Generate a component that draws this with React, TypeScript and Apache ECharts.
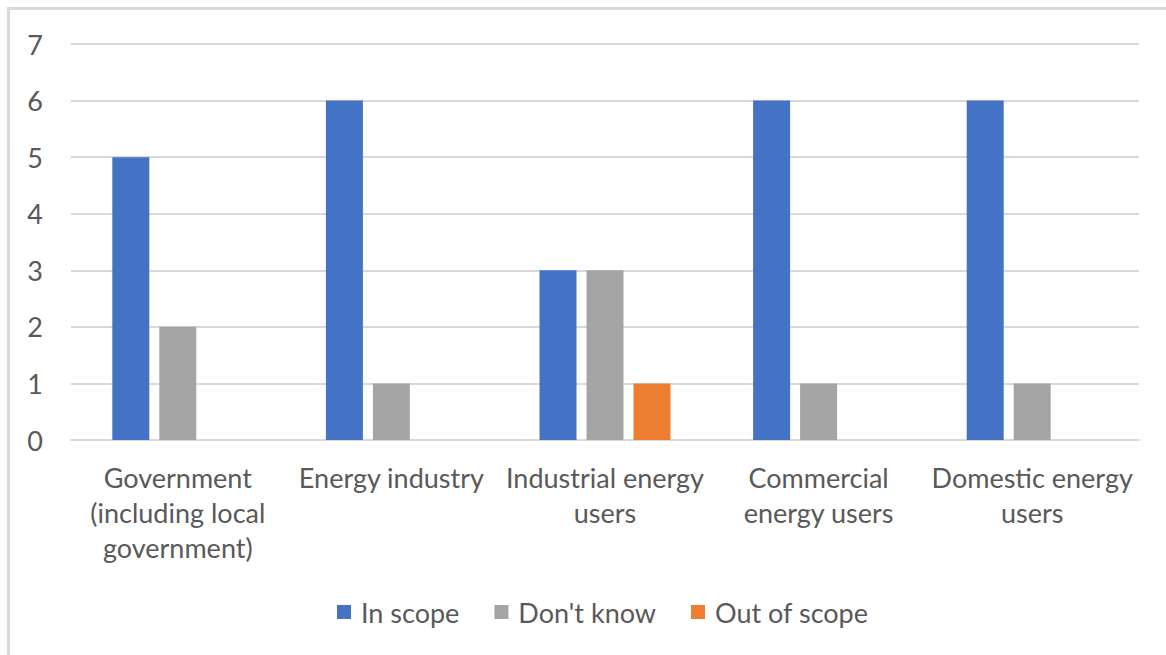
import React, { useEffect, useRef } from "react";
import * as echarts from "echarts";

const categories = [
  "Government\n(including local\ngovernment)",
  "Energy industry",
  "Industrial energy\nusers",
  "Commercial\nenergy users",
  "Domestic energy\nusers",
];
const inScope = [5, 6, 3, 6, 6];
const dontKnow = [2, 1, 3, 1, 1];
const outOfScope = [0, 0, 1, 0, 0];
const yTicks = [0, 1, 2, 3, 4, 5, 6, 7];

const FONT = "Lato, 'Open Sans', sans-serif";
const TEXT = "#595959";
const FS = 27;

export default function App() {
  const ref = useRef<HTMLDivElement>(null);

  useEffect(() => {
    if (!ref.current) return;
    const chart = echarts.init(ref.current, undefined, { renderer: "svg" });
    const bar = (name: string, data: number[], color: string) => ({
      name,
      type: "bar",
      data,
      barWidth: 37,
      barGap: "27%",
      itemStyle: { color },
    });
    chart.setOption({
      animation: false,
      backgroundColor: "#ffffff",
      textStyle: { fontFamily: FONT },
      graphic: [
        {
          type: "polyline",
          shape: { points: [[8.5, 655], [8.5, 8.5], [1166, 8.5]] },
          style: { stroke: "#d9d9d9", lineWidth: 3, fill: null },
          silent: true,
        },
      ],
      grid: { left: 71, right: 27, top: 44, bottom: 215, containLabel: false },
      legend: {
        top: 592,
        left: 332,
        itemWidth: 14,
        itemHeight: 14,
        itemGap: 35,
        icon: "rect",
        textStyle: {
          color: TEXT,
          fontSize: FS,
          lineHeight: 30,
          fontFamily: FONT,
          padding: [0, 0, 0, 5],
        },
        data: ["In scope", "Don't know", "Out of scope"],
      },
      xAxis: {
        type: "category",
        data: categories,
        axisLine: { show: true, lineStyle: { color: "#d9d9d9", width: 2 } },
        axisTick: { show: false },
        axisLabel: {
          color: TEXT,
          fontSize: FS,
          fontFamily: FONT,
          lineHeight: 35,
          margin: 20,
          interval: 0,
          align: "center",
        },
      },
      yAxis: {
        type: "value",
        min: yTicks[0],
        max: yTicks[yTicks.length - 1],
        interval: 1,
        axisLine: { show: false },
        axisTick: { show: false },
        splitLine: { lineStyle: { color: "#d9d9d9", width: 2 } },
        axisLabel: { color: TEXT, fontSize: FS, fontFamily: FONT, margin: 28 },
      },
      series: [
        bar("In scope", inScope, "#4472C4"),
        bar("Don't know", dontKnow, "#A5A5A5"),
        bar("Out of scope", outOfScope, "#ED7D31"),
      ],
    });
    return () => chart.dispose();
  }, []);

  return (
    <div
      ref={ref}
      style={{ position: "absolute", left: 0, top: 0, width: 1166, height: 655 }}
    />
  );
}
